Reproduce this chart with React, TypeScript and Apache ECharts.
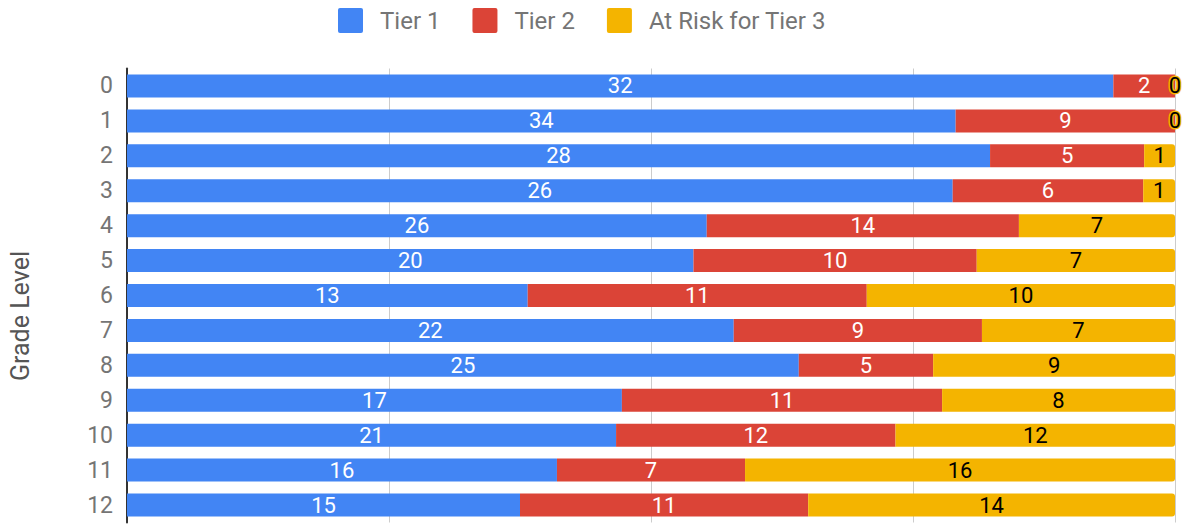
import React, { useEffect, useRef } from "react";
import * as echarts from "echarts";

const categories = ["0", "1", "2", "3", "4", "5", "6", "7", "8", "9", "10", "11", "12"];
const tier1 = [32, 34, 28, 26, 26, 20, 13, 22, 25, 17, 21, 16, 15];
const tier2 = [2, 9, 5, 6, 14, 10, 11, 9, 5, 11, 12, 7, 11];
const tier3 = [0, 0, 1, 1, 7, 7, 10, 7, 9, 8, 12, 16, 14];
const seriesNames = ["Tier 1", "Tier 2", "At Risk for Tier 3"];
const colors = ["#4285F4", "#DB4437", "#F4B400"];
const axisTitle = "Grade Level";

export default function App() {
  const ref = useRef<HTMLDivElement>(null);
  useEffect(() => {
    if (!ref.current) return;
    const chart = echarts.init(ref.current, null, { renderer: "svg" });
    const raw = [tier1, tier2, tier3];
    const totals = categories.map((_, i) => tier1[i] + tier2[i] + tier3[i]);
    const font = "Roboto";
    const series = raw.map((arr, si) => ({
      name: seriesNames[si],
      type: "bar",
      stack: "total",
      barWidth: 23,
      itemStyle: { color: colors[si], borderRadius: si === 2 ? [0, 3, 3, 0] : 0 },
      data: arr.map((v, i) => ({ value: (v / totals[i]) * 100, raw: v })),
      label: {
        show: true,
        position: "inside",
        fontFamily: font,
        fontSize: 22,
        color: si === 2 ? "#000" : "#fff",
        textBorderColor: si === 2 ? colors[2] : "transparent",
        textBorderWidth: si === 2 ? 3 : 0,
        formatter: (p: any) => String(p.data.raw),
      },
    }));
    chart.setOption({
      animation: false,
      color: colors,
      legend: {
        top: 3,
        left: 333,
        itemWidth: 25,
        itemHeight: 25,
        itemGap: 32,
        icon: "path://M2,0 H23 Q25,0 25,2 V23 Q25,25 23,25 H2 Q0,25 0,23 V2 Q0,0 2,0 Z",
        textStyle: { fontFamily: font, fontSize: 24, color: "#757575", padding: [0, 0, 0, 12] },
        data: seriesNames,
      },
      grid: { left: 127, right: 10, top: 68.5, bottom: 1.5, containLabel: false, outerBoundsMode: "none" },
      graphic: [
        {
          type: "text",
          x: 20,
          y: 316,
          rotation: Math.PI / 2,
          style: {
            text: axisTitle,
            fontFamily: font,
            fontSize: 25,
            fill: "#555",
            align: "center",
            verticalAlign: "middle",
          },
        },
      ],
      xAxis: {
        type: "value",
        min: 0,
        max: 100,
        interval: 25,
        axisLabel: { show: false },
        axisLine: { show: false },
        axisTick: { show: false },
        splitLine: { show: true, lineStyle: { color: "#cccccc", width: 1 } },
      },
      yAxis: {
        type: "category",
        data: categories,
        inverse: true,
        axisLine: { show: true, lineStyle: { color: "#333", width: 2 } },
        axisTick: { show: false },
        axisLabel: { fontFamily: font, fontSize: 23, color: "#757575", margin: 14 },
      },
      series,
    });
    return () => chart.dispose();
  }, []);
  return (
    <div
      ref={ref}
      style={{ position: "fixed", left: 0, top: 0, width: 1185, height: 524, background: "#fff" }}
    />
  );
}
